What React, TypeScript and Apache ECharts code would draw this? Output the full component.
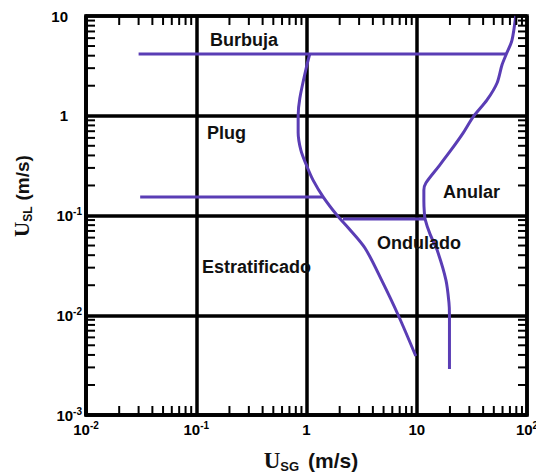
import React, { useEffect, useRef, useState } from "react";
import * as echarts from "echarts";

// ---- Data ----
const xTickValues = [0.01, 0.1, 1, 10, 100];
const yTickValues = [0.001, 0.01, 0.1, 1, 10];
const minorMultipliers = [2, 3, 4, 5, 6, 7, 8, 9];
const xDecades = [0.01, 0.1, 1, 10];
const yDecades = [0.001, 0.01, 0.1, 1];

// Bubble / plug boundary (horizontal)
const burbujaLine: [number, number][] = [
  [0.03, 4.16],
  [65, 4.16],
];
// Plug / stratified boundary (horizontal)
const plugLine: [number, number][] = [
  [0.031, 0.153],
  [1.42, 0.153],
];
// Wavy upper boundary (horizontal)
const onduladoLine: [number, number][] = [
  [2.14, 0.092],
  [11.9, 0.092],
];
// Left curve (intermittent / stratified)
const leftCurve: [number, number][] = [
  [1.07, 4.16],
  [1.0, 3.1],
  [0.87, 1.5],
  [0.84, 1.0],
  [0.84, 0.68],
  [0.89, 0.45],
  [1.01, 0.31],
  [1.15, 0.225],
  [1.42, 0.153],
  [1.9, 0.1],
  [2.4, 0.075],
  [3.4, 0.047],
  [4.8, 0.0225],
  [6.8, 0.01],
  [9.8, 0.0039],
];
// Right curve (annular boundary)
const rightCurve: [number, number][] = [
  [79, 10],
  [73, 5.7],
  [65, 4.16],
  [59.3, 3.23],
  [53.5, 2.13],
  [43.4, 1.44],
  [32.4, 0.97],
  [26.3, 0.67],
  [20.5, 0.454],
  [15.9, 0.313],
  [12.1, 0.212],
  [11.6, 0.18],
  [11.6, 0.14],
  [11.7, 0.11],
  [11.9, 0.092],
  [13.2, 0.065],
  [15.3, 0.045],
  [18.4, 0.0225],
  [19.6, 0.0133],
  [19.8, 0.01],
  [19.8, 0.0029],
];

const regionLabels = ["Burbuja", "Plug", "Anular", "Ondulado", "Estratificado"];

const LINE_COLOR = "#5a3db5";
const SANS = "'Liberation Sans', Arial, sans-serif";
const SERIF = "'Liberation Serif', 'Times New Roman', serif";

const W = 536;
const H = 475;
const GRID = { left: 86, right: 9, top: 16, bottom: 60, outerBoundsMode: "none", containLabel: false };
const TICK_LEN = 9;

function supLabel(v: number, padEmpty: boolean) {
  const e = Math.round(Math.log10(v));
  if (e === 0) return padEmpty ? "{b|1}{p|}" : "{b|1}";
  if (e === 1) return padEmpty ? "{b|10}{p|}" : "{b|10}";
  return "{b|10}{s|" + e + "}";
}

const tickRich = {
  b: { fontSize: 15, fontWeight: "bold", fontFamily: SANS, color: "#000", lineHeight: 18 },
  s: { fontSize: 10, fontWeight: "bold", fontFamily: SANS, color: "#000", verticalAlign: "top", lineHeight: 10 },
  p: { width: 14 },
};

function axisBase(min: number, max: number) {
  return {
    type: "log",
    logBase: 10,
    min,
    max,
    splitNumber: 4,
    axisLine: { show: true, onZero: false, lineStyle: { color: "#000", width: 3.5 } },
    axisTick: { show: false },
    splitLine: { show: true, lineStyle: { color: "#000", width: 3.5 } },
  };
}

function mainOption() {
  const lineSeries = (data: [number, number][], smooth: number | boolean) => ({
    type: "line",
    data,
    symbol: "none",
    smooth,
    lineStyle: { color: LINE_COLOR, width: 3 },
    z: 5,
    silent: true,
  });
  const labelPos = [
    [210, 40],
    [207, 133],
    [443, 192],
    [377, 243],
    [202, 267],
  ];
  return {
    animation: false,
    backgroundColor: "#fff",
    grid: { ...GRID, show: true, borderColor: "#000", borderWidth: 3.5, backgroundColor: "transparent" },
    xAxis: {
      ...axisBase(xTickValues[0], xTickValues[xTickValues.length - 1]),
      axisLabel: {
        margin: 5,
        formatter: (v: number) => supLabel(v, false),
        rich: tickRich,
        showMinLabel: true,
        showMaxLabel: true,
      },
    },
    yAxis: {
      ...axisBase(yTickValues[0], yTickValues[yTickValues.length - 1]),
      axisLabel: {
        margin: 4,
        formatter: (v: number) => supLabel(v, true),
        rich: tickRich,
        showMinLabel: true,
        showMaxLabel: true,
      },
    },
    series: [
      lineSeries(burbujaLine, false),
      lineSeries(plugLine, false),
      lineSeries(onduladoLine, false),
      lineSeries(leftCurve, 0.3),
      lineSeries(rightCurve, 0.3),
    ],
    graphic: [
      ...labelPos.map((p, i) => ({
        type: "text",
        x: p[0],
        y: p[1],
        z: 10,
        style: {
          text: regionLabels[i],
          fontSize: 18,
          fontWeight: "bold",
          fontFamily: SANS,
          fill: "#111",
          align: "left",
          verticalAlign: "middle",
        },
      })),
      {
        type: "text",
        x: 311,
        y: 460,
        z: 10,
        style: {
          text: "{u|U}{sub|SG}{sp| }{t|(m/s)}",
          align: "center",
          verticalAlign: "middle",
          rich: {
            u: { fontSize: 23, fontWeight: "bold", fontFamily: SERIF, fill: "#111", lineHeight: 26 },
            sub: { fontSize: 13, fontWeight: "bold", fontFamily: SANS, fill: "#111", verticalAlign: "bottom", lineHeight: 13 },
            sp: { width: 9 },
            t: { fontSize: 21, fontWeight: "bold", fontFamily: SANS, fill: "#111", lineHeight: 26 },
          },
        },
      },
      {
        type: "text",
        x: 22,
        y: 196,
        rotation: Math.PI / 2,
        z: 10,
        style: {
          text: "{u|U}{sub|SL}{sp| }{t|(m/s)}",
          align: "center",
          verticalAlign: "middle",
          rich: {
            u: { fontSize: 21, fontWeight: "bold", fontFamily: SERIF, fill: "#111", lineHeight: 24 },
            sub: { fontSize: 12, fontWeight: "bold", fontFamily: SANS, fill: "#111", verticalAlign: "bottom", lineHeight: 12 },
            sp: { width: 6 },
            t: { fontSize: 19, fontWeight: "bold", fontFamily: SANS, fill: "#111", lineHeight: 24 },
          },
        },
      },
    ],
  };
}

type Seg = { x1: number; y1: number; x2: number; y2: number };

// Pixel position of a value on a log axis, taken from the chart's own scale when possible
function toPixel(chart: any, pt: [number, number]): [number, number] {
  let p: any = null;
  try {
    p = chart.convertToPixel({ gridIndex: 0 }, pt);
  } catch (e) {
    p = null;
  }
  if (p && isFinite(p[0]) && isFinite(p[1])) return [p[0], p[1]];
  const x0 = GRID.left;
  const x1 = W - GRID.right;
  const y0 = H - GRID.bottom;
  const y1 = GRID.top;
  const lx = (Math.log10(pt[0]) - Math.log10(xTickValues[0])) / (Math.log10(xTickValues[xTickValues.length - 1]) - Math.log10(xTickValues[0]));
  const ly = (Math.log10(pt[1]) - Math.log10(yTickValues[0])) / (Math.log10(yTickValues[yTickValues.length - 1]) - Math.log10(yTickValues[0]));
  return [x0 + lx * (x1 - x0), y0 + ly * (y1 - y0)];
}

export default function App() {
  const mainRef = useRef<HTMLDivElement>(null);
  const [segs, setSegs] = useState<Seg[]>([]);
  useEffect(() => {
    if (!mainRef.current) return;
    const chart = echarts.init(mainRef.current, undefined, { renderer: "svg" });
    chart.setOption(mainOption());
    const yMin = yTickValues[0];
    const yMax = yTickValues[yTickValues.length - 1];
    const xMin = xTickValues[0];
    const xMax = xTickValues[xTickValues.length - 1];
    const out: Seg[] = [];
    xDecades.forEach((d) =>
      minorMultipliers.forEach((m) => {
        const v = d * m;
        const b = toPixel(chart, [v, yMin]);
        const t = toPixel(chart, [v, yMax]);
        out.push({ x1: b[0], y1: b[1], x2: b[0], y2: b[1] - TICK_LEN });
        out.push({ x1: t[0], y1: t[1], x2: t[0], y2: t[1] + TICK_LEN });
      })
    );
    yDecades.forEach((d) =>
      minorMultipliers.forEach((m) => {
        const v = d * m;
        const l = toPixel(chart, [xMin, v]);
        const r = toPixel(chart, [xMax, v]);
        out.push({ x1: l[0], y1: l[1], x2: l[0] + TICK_LEN, y2: l[1] });
        out.push({ x1: r[0], y1: r[1], x2: r[0] - TICK_LEN, y2: r[1] });
      })
    );
    setSegs(out);
    return () => {
      chart.dispose();
    };
  }, []);
  return (
    <>
      <div
        ref={mainRef}
        style={{ position: "fixed", left: 0, top: 0, width: W, height: H, background: "#fff", zIndex: 0 }}
      />
      <svg
        width={W}
        height={H}
        style={{ position: "fixed", left: 0, top: 0, zIndex: 5, pointerEvents: "none" }}
      >
        {segs.map((s, i) => (
          <line key={i} x1={s.x1} y1={s.y1} x2={s.x2} y2={s.y2} stroke="#000" strokeWidth={2} />
        ))}
      </svg>
    </>
  );
}
